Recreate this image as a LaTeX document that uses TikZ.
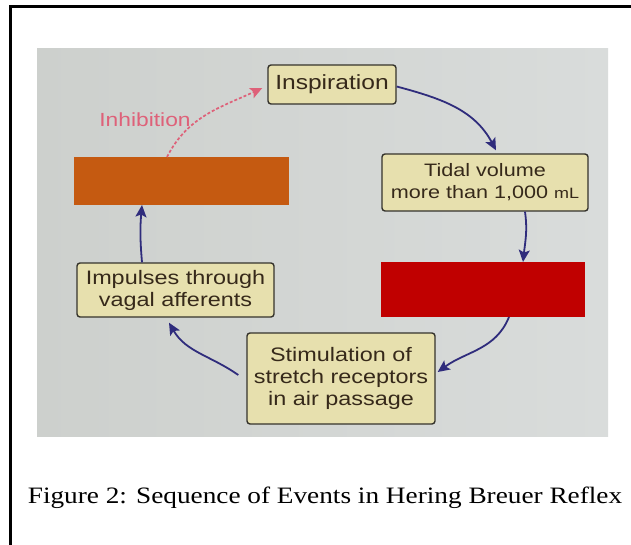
\documentclass[tikz,border=0pt]{standalone}
\usepackage{fontspec}
\setmainfont[FakeStretch=1.16]{Liberation Serif}
\newfontfamily\boxfont[FakeStretch=1.2]{Liberation Sans}
\usetikzlibrary{arrows.meta}
\definecolor{photobg}{HTML}{D9DCDB}
\definecolor{photobgL}{HTML}{CDD0CD}
\definecolor{boxfill}{HTML}{E7E0AE}
\definecolor{boxline}{HTML}{35332C}
\definecolor{boxtext}{HTML}{36291A}
\definecolor{arrowc}{HTML}{2F2C7C}
\definecolor{inhib}{HTML}{DE6179}
\definecolor{redact}{HTML}{C00000}
\definecolor{orangeblk}{HTML}{C55A11}
\tikzset{
  box/.style={draw=boxline, line width=1.4pt, fill=boxfill, rounded corners=3pt,
    text=boxtext, align=center, inner sep=2pt,
    font=\boxfont\fontsize{19.5}{22}\selectfont},
  blockout/.style={inner sep=0pt, outer sep=0pt},
  flow/.style={draw=arrowc, line width=1.8pt, -{Stealth[length=12pt,width=11pt,inset=2.5pt]}},
  inhflow/.style={draw=inhib, line width=1.7pt, dash pattern=on 3pt off 2pt,
    -{Stealth[length=12pt,width=11pt,inset=2.5pt]}},
}
\begin{document}
\begin{tikzpicture}[x=1pt,y=1pt]
\useasboundingbox (0,0) rectangle (631,-545);
\fill[white] (0,0) rectangle (631,-545);
% frame
\draw[line width=3pt] (10.5,-545) -- (10.5,-6.5) -- (631,-6.5);
% photo background
\shade[left color=photobgL, right color=photobg] (37,-49) rectangle (608,-436);

% nodes
\node[box, minimum width=128pt, minimum height=39pt, font=\boxfont\fontsize{20.5}{22}\selectfont] (insp) at (332,-84.5) {Inspiration};
\node[box, minimum width=206pt, minimum height=57pt, font=\boxfont\fontsize{18}{22}\selectfont] (tidal) at (485,-182.5)
  {Tidal volume\\more than 1,000 {\fontsize{15}{15}\selectfont mL}};
\node[blockout, fill=redact, minimum width=204pt, minimum height=55pt] (red) at (483,-289.5) {};
\node[box, minimum width=188pt, minimum height=91pt] (stim) at (341,-378.5)
  {Stimulation of\\stretch receptors\\in air passage};
\node[box, minimum width=197pt, minimum height=54pt] (imp) at (175.5,-290)
  {Impulses through\\vagal afferents};
\node[blockout, fill=orangeblk, minimum width=215pt, minimum height=48pt] (orange) at (181.5,-181) {};
\node[text=inhib, font=\boxfont\fontsize{19}{19}\selectfont] (inhlabel) at (145,-120) {Inhibition};

% connectors
\draw[flow] ([yshift=-2pt]insp.east) to[out=-15,in=118] ([xshift=11pt,yshift=3pt]tidal.north);
\draw[flow] ([xshift=40pt]tidal.south) to[out=-82,in=84] ([xshift=40pt]red.north);
\draw[flow] ([xshift=26pt]red.south) to[out=-112,in=36] ([xshift=2pt,yshift=6.5pt]stim.east);
\draw[flow] ([xshift=-8pt,yshift=3.5pt]stim.west) to[out=145,in=-60] ([xshift=-6.5pt,yshift=-5pt]imp.south);
\draw[flow] ([xshift=-33.5pt]imp.north) to[out=95,in=-95] ([xshift=-39.5pt]orange.south);
\draw[inhflow] ([xshift=-14.5pt]orange.north) to[out=63,in=205] ([xshift=-5pt,yshift=-3.5pt]insp.west);

% caption
\node[anchor=base, font=\fontsize{23.5}{26}\selectfont] (cap) at (325,-503)
  {Figure 2: Sequence of Events in Hering Breuer Reflex};
\end{tikzpicture}
\end{document}
